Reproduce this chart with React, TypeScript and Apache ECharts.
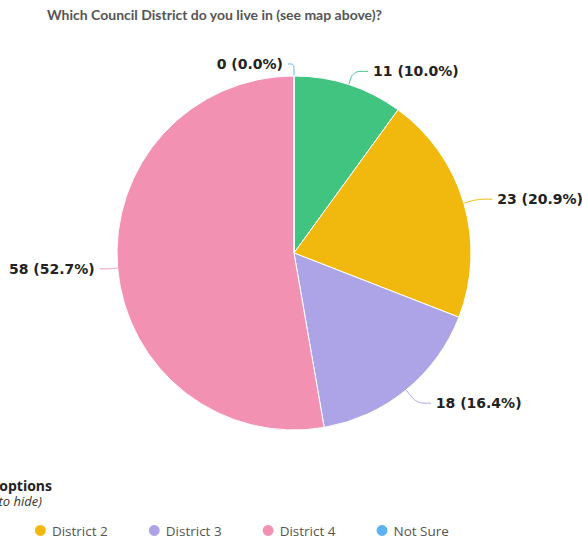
import React, { useEffect, useRef } from "react";
import * as echarts from "echarts";

const categories = ["District 1", "District 2", "District 3", "District 4", "Not Sure"];
const values = [11, 23, 18, 58, 0];
const colors = ["#40c480", "#f1b90e", "#aca4e6", "#f291b2", "#5cb3f2"];
const lineLengths = [
  [14, 15],
  [14, 15],
  [17, 14],
  [8, 10],
  [12, 6],
];
const titleText = "Which Council District do you live in (see map above)?";
const legendTitle = "Answer options";
const legendSub = "(click to hide)";

export default function App() {
  const ref = useRef<HTMLDivElement>(null);
  useEffect(() => {
    if (!ref.current) return;
    const chart = echarts.init(ref.current, null, { renderer: "svg" });
    const total = values.reduce((a, b) => a + b, 0);
    chart.setOption({
      animation: false,
      color: colors,
      graphic: [
        {
          type: "text",
          left: 47,
          top: 7,
          style: {
            text: titleText,
            font: "bold 14px Lato",
            fill: "#555",
          },
        },
        {
          type: "text",
          x: 52,
          y: 485,
          style: {
            text: legendTitle,
            font: "bold 14px 'Open Sans'",
            fill: "#222",
            textAlign: "right",
            textVerticalAlign: "middle",
          },
        },
        {
          type: "text",
          x: 42,
          y: 501,
          style: {
            text: legendSub,
            font: "italic 13px 'Open Sans'",
            fill: "#333",
            textAlign: "right",
            textVerticalAlign: "middle",
          },
        },
      ],
      legend: {
        left: -86,
        top: 518,
        icon: "circle",
        itemWidth: 13,
        itemHeight: 13,
        itemGap: 39,
        textStyle: { fontFamily: "Open Sans", fontSize: 13.5, color: "#555" },
        data: categories,
      },
      series: [
        {
          type: "pie",
          center: [294, 253],
          radius: 177,
          startAngle: 90,
          clockwise: true,
          itemStyle: { borderColor: "#fff", borderWidth: 1 },
          label: {
            show: true,
            fontFamily: "DejaVu Sans",
            fontWeight: "bold",
            fontSize: 14,
            color: "#222",
            overflow: "none",
            bleedMargin: 0,
            formatter: (p: any) =>
              `${p.value} (${((p.value / total) * 100).toFixed(1)}%)`,
          },
          labelLine: { show: true, length: 14, length2: 12, smooth: true },
          emphasis: { disabled: true },
          data: categories.map((c, i) => ({
            name: c,
            value: values[i],
            labelLine: { length: lineLengths[i][0], length2: lineLengths[i][1] },
          })),
        },
      ],
    });
    return () => chart.dispose();
  }, []);
  return (
    <div
      ref={ref}
      style={{ position: "absolute", left: 0, top: 0, width: 582, height: 542 }}
    />
  );
}
